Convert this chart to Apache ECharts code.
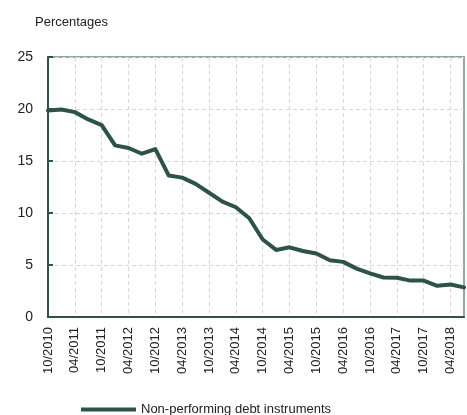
<!DOCTYPE html>
<html>
<head>
<meta charset="utf-8">
<script src="https://cdn.jsdelivr.net/npm/echarts@6/dist/echarts.min.js"></script>
<style>
  html, body { margin: 0; padding: 0; background: #fff; }
  #chart { width: 467px; height: 415px; }
</style>
</head>
<body>
<div id="chart"></div>
<script>
// Quarterly observation dates
const quarters = [
  '10/2010', '01/2011', '04/2011', '07/2011', '10/2011', '01/2012', '04/2012', '07/2012',
  '10/2012', '01/2013', '04/2013', '07/2013', '10/2013', '01/2014', '04/2014', '07/2014',
  '10/2014', '01/2015', '04/2015', '07/2015', '10/2015', '01/2016', '04/2016', '07/2016',
  '10/2016', '01/2017', '04/2017', '07/2017', '10/2017', '01/2018', '04/2018', '07/2018'
];

// Share of non-performing debt instruments, in percent
const nonPerforming = [
  19.85, 19.95, 19.7, 19.0, 18.45, 16.5, 16.25, 15.7,
  16.15, 13.6, 13.4, 12.8, 11.95, 11.1, 10.55, 9.5,
  7.45, 6.45, 6.7, 6.35, 6.1, 5.45, 5.3, 4.65,
  4.2, 3.8, 3.78, 3.5, 3.5, 3.0, 3.12, 2.85
];

const yTicks = { min: 0, max: 25, step: 5 };

const seriesName = 'Non-performing debt instruments';
const unitLabel = 'Percentages';

const FONT = "'Liberation Sans', Arial, sans-serif";
const GREEN = '#2d5344';

const chart = echarts.init(document.getElementById('chart'), null, { renderer: 'canvas' });

chart.setOption({
  animation: false,
  backgroundColor: '#ffffff',
  title: {
    text: unitLabel,
    left: 30,
    top: 11,
    textStyle: { fontFamily: FONT, fontSize: 13, fontWeight: 'normal', color: '#222' }
  },
  grid: {
    left: 48, right: 3, top: 57, bottom: 98,
    show: true,
    borderColor: '#6f8c82',
    borderWidth: 1.5,
    containLabel: false
  },
  legend: {
    data: [seriesName],
    left: 81,
    top: 403,
    padding: 0,
    itemWidth: 55,
    itemHeight: 4,
    icon: 'rect',
    textStyle: { fontFamily: FONT, fontSize: 13, color: '#222' }
  },
  xAxis: {
    type: 'category',
    data: quarters,
    boundaryGap: false,
    axisLine: { show: true, lineStyle: { color: GREEN, width: 2 } },
    axisTick: { show: false },
    axisLabel: {
      interval: 1,
      rotate: 90,
      margin: 10,
      fontFamily: FONT,
      fontSize: 13,
      color: '#222'
    },
    splitLine: {
      show: true,
      interval: 1,
      lineStyle: { color: '#d6d6d6', type: [4, 3], width: 1 }
    }
  },
  yAxis: {
    type: 'value',
    min: yTicks.min,
    max: yTicks.max,
    interval: yTicks.step,
    axisLine: { show: true, lineStyle: { color: GREEN, width: 2 } },
    axisTick: { show: true, inside: true, length: 5, lineStyle: { color: GREEN, width: 2 } },
    axisLabel: { margin: 15, fontFamily: FONT, fontSize: 14, color: '#222' },
    splitLine: { show: true, lineStyle: { color: '#d6d6d6', type: [4, 3], width: 1 } }
  },
  series: [{
    name: seriesName,
    type: 'line',
    data: nonPerforming,
    showSymbol: false,
    symbol: 'none',
    itemStyle: { color: GREEN },
    lineStyle: { color: GREEN, width: 4, cap: 'round', join: 'round' }
  }]
});
</script>
</body>
</html>
